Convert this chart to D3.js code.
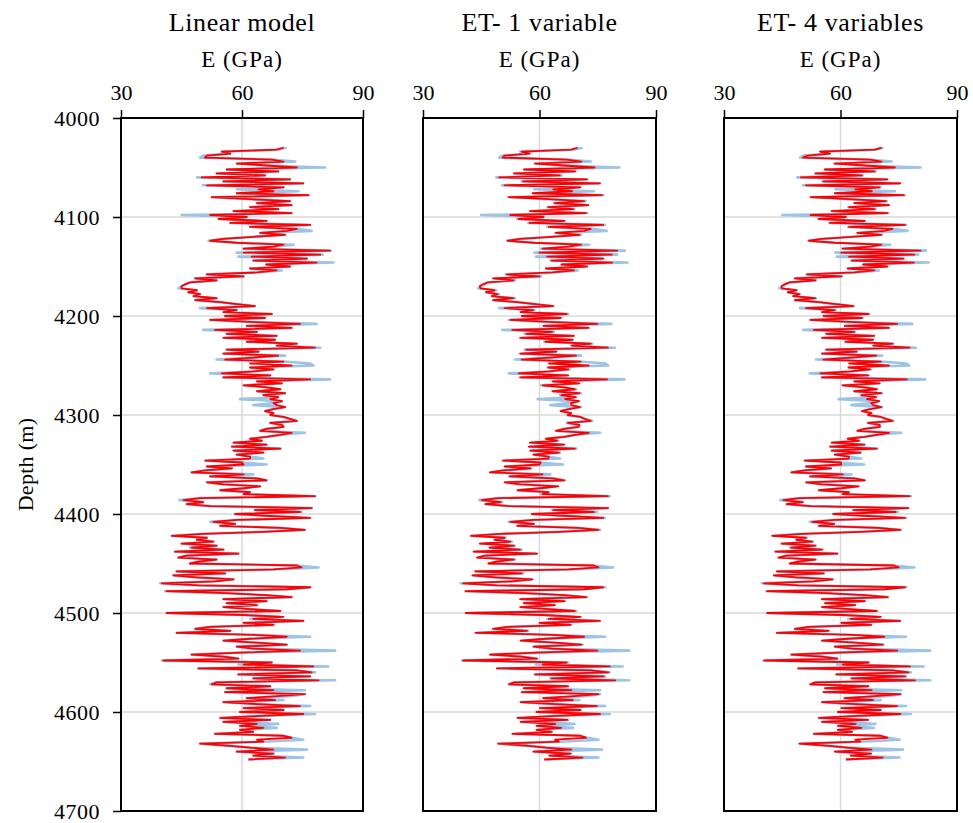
<!DOCTYPE html>
<html>
<head>
<meta charset="utf-8">
<script src="https://cdn.jsdelivr.net/npm/d3@7"></script>
<style>
  body { margin: 0; background: #fff; }
</style>
</head>
<body>
<svg id="chart" width="973" height="823"></svg>
<script>
// Log samples every 2 m, starting at 4030 m
const DEPTH_START = 4030;
const DEPTH_STEP = 2;

// Measured E (GPa) - light blue
const measured = [
  71.1, 68.6, 55.0, 57.1, 50.4, 49.6, 67.4, 73.2, 58.7, 66.1,
  80.6, 56.2, 69.0, 53.7, 65.7, 48.9, 71.9, 55.4, 75.2, 50.3,
  70.3, 58.7, 74.0, 58.7, 76.5, 52.5, 62.0, 71.9, 63.7, 72.3,
  62.0, 69.0, 57.9, 72.3, 45.0, 61.2, 54.2, 66.1, 57.1, 76.9,
  62.0, 73.6, 77.3, 64.5, 70.7, 62.8, 55.4, 51.7, 58.7, 72.8,
  67.8, 60.4, 82.0, 58.7, 80.0, 59.1, 76.1, 62.8, 82.7, 66.0,
  71.9, 62.0, 69.9, 63.7, 51.3, 60.4, 48.4, 53.7, 47.1, 45.9, 45.0,
  44.2, 48.8, 46.7, 49.6, 48.0, 53.7, 48.4, 54.6, 58.7, 63.2,
  49.6, 58.7, 55.4, 67.4, 55.8, 65.7, 52.1, 62.0, 78.5, 61.2,
  72.3, 50.4, 63.7, 56.2, 68.6, 55.4,
  68.2, 61.2, 73.6, 68.6, 79.4, 56.2, 64.1, 55.4, 70.7, 62.8,
  53.7, 70.3, 76.9, 77.7, 62.0, 67.8, 62.8, 52.1, 67.0, 55.4,
  81.8, 63.7, 69.9, 60.4, 66.1, 69.5, 63.7, 70.7, 65.3, 69.0,
  59.5, 69.9, 67.8, 62.8, 70.7, 67.8, 65.7, 67.8, 67.0, 70.3,
  71.9, 73.6, 67.0, 69.9, 70.3, 66.1, 64.5, 75.6, 69.5, 66.1,
  62.0, 64.9, 57.9, 66.1, 57.5, 69.5, 57.9, 65.3, 58.7, 62.0,
  65.3, 50.9, 60.0, 66.1, 51.3, 57.5, 50.9, 47.5, 62.8, 52.1,
  63.7, 66.1, 51.3, 55.4, 64.5, 60.4, 54.6, 62.0, 60.4, 78.1,
  49.6, 44.5, 50.4, 46.3, 52.1, 77.3, 63.2, 74.8, 58.3, 67.0,
  76.9, 58.7, 52.1, 58.3, 54.6, 69.5, 75.6, 65.3, 50.4, 42.6,
  51.3, 48.8, 52.9, 45.0, 53.7, 47.1,
  55.4, 43.4, 59.1, 46.3, 44.2, 53.7, 49.2, 47.1, 73.6,
  79.0, 67.8, 43.8, 55.8, 43.0, 48.8, 57.9, 53.3, 39.7, 49.2, 77.0, 71.1, 40.9,
  56.2, 66.1, 72.3, 55.4, 66.1, 56.2, 63.7, 55.4, 62.0,
  69.5, 41.3, 60.4, 69.5, 62.0, 75.2, 60.4, 67.8, 52.1, 48.4,
  57.1, 43.8, 62.8, 76.9, 62.0, 55.4, 63.7, 71.1, 58.7, 62.8,
  83.1, 59.5, 47.5, 55.4, 59.1, 40.1,
  67.4, 59.1, 81.4, 49.2, 73.6, 78.1, 59.1, 76.9, 62.8, 83.1, 53.7, 52.1, 67.0, 56.2, 75.6, 55.8, 75.6,
  71.9, 61.2, 70.3, 55.4, 63.7, 76.9, 60.4, 70.3, 59.5, 78.1, 64.5, 54.6, 67.0, 55.4, 69.0, 59.5, 68.6, 59.5,
  62.8, 53.3, 70.3, 72.3, 75.2, 65.3, 49.6, 56.2, 62.0, 76.1, 58.7,
  67.8, 62.8, 75.2, 61.6
];

// Predicted E (GPa) - red, one series per model
const linearModel = [
  70.3, 68.6, 55.0, 57.1, 51.3, 50.8, 67.4, 70.3, 58.7, 66.1,
  73.6, 56.2, 69.0, 53.7, 65.7, 50.0, 71.9, 55.4, 75.2, 51.3,
  70.3, 64.1, 67.8, 58.7, 76.5, 52.5, 62.0, 71.9, 63.7, 72.3,
  62.0, 69.0, 57.9, 72.3, 52.1, 61.2, 54.2, 66.1, 57.1, 76.9,
  62.0, 73.6, 71.1, 64.5, 70.7, 62.8, 55.4, 52.1, 58.7, 70.3,
  67.8, 60.4, 81.8, 60.4, 79.4, 62.4, 76.1, 62.8, 78.5, 66.0,
  71.9, 62.0, 68.6, 63.7, 51.3, 60.4, 48.4, 53.7, 47.1, 45.9, 45.0,
  45.0, 48.8, 46.7, 49.6, 48.0, 53.7, 48.4, 54.6, 58.7, 63.2,
  51.3, 58.7, 55.4, 67.4, 55.8, 65.7, 52.1, 62.0, 74.4, 61.2,
  72.3, 53.3, 63.7, 56.2, 68.6, 55.4,
  68.2, 61.2, 73.6, 68.6, 78.1, 56.2, 64.1, 55.4, 69.0, 62.8,
  55.8, 70.3, 62.0, 72.3, 62.0, 67.8, 62.8, 55.0, 67.0, 55.4,
  76.9, 63.7, 69.9, 60.4, 66.1, 69.5, 63.7, 70.7, 65.3, 69.0,
  67.0, 69.9, 67.8, 68.6, 70.7, 67.8, 65.7, 67.8, 67.0, 70.3,
  71.9, 73.6, 67.0, 69.9, 70.3, 66.1, 64.5, 72.3, 69.5, 66.1,
  62.0, 64.9, 57.9, 66.1, 57.5, 69.5, 57.9, 65.3, 58.7, 62.0,
  62.0, 50.9, 60.0, 60.4, 51.3, 57.5, 50.9, 47.5, 60.4, 52.1,
  63.7, 66.1, 51.3, 55.4, 64.5, 60.4, 54.6, 62.0, 60.4, 78.1,
  49.6, 45.5, 50.4, 46.3, 52.1, 77.3, 63.2, 74.4, 58.3, 67.0,
  76.9, 58.7, 52.9, 58.3, 54.6, 69.5, 75.6, 65.3, 50.4, 42.6,
  51.3, 48.8, 52.9, 45.0, 53.7, 47.5,
  55.4, 43.4, 59.1, 46.3, 44.2, 53.7, 49.2, 47.1, 73.6,
  74.8, 67.8, 43.8, 55.8, 43.0, 48.8, 57.9, 53.3, 40.1, 49.2, 76.9, 71.1, 41.3,
  56.2, 66.1, 72.3, 55.4, 66.1, 56.2, 63.7, 55.4, 62.0,
  69.5, 41.3, 60.4, 70.3, 62.8, 75.2, 60.4, 67.8, 52.1, 48.4,
  57.1, 43.8, 62.8, 71.1, 62.0, 55.4, 63.7, 71.1, 58.7, 62.8,
  74.4, 59.5, 47.5, 55.4, 59.1, 40.5,
  67.4, 60.4, 77.7, 49.2, 73.6, 77.3, 59.1, 76.9, 62.8, 79.0, 53.7, 52.5, 67.0, 56.2, 67.8, 55.8, 75.6,
  68.6, 61.2, 68.2, 55.4, 63.7, 74.4, 60.4, 70.3, 59.5, 75.2, 64.5, 54.6, 67.0, 55.4, 63.7, 59.5, 65.3, 59.5,
  62.8, 53.3, 70.3, 72.3, 63.7, 65.3, 49.6, 56.2, 62.0, 67.8, 58.7,
  67.8, 62.8, 70.7, 61.6
];

const et1Variable = [
  69.8, 68.2, 55.4, 57.5, 51.0, 50.5, 67.0, 70.8, 58.9, 66.4,
  74.2, 56.0, 69.3, 53.4, 65.2, 49.6, 72.3, 55.8, 75.6, 51.0,
  70.6, 63.5, 68.4, 58.2, 76.1, 52.0, 62.4, 71.5, 63.9, 72.6,
  62.3, 68.7, 57.5, 72.0, 52.5, 61.0, 54.6, 66.5, 57.4, 76.4,
  62.4, 73.2, 71.6, 64.1, 70.3, 63.2, 55.0, 51.8, 58.4, 70.7,
  67.4, 60.8, 80.0, 60.0, 78.6, 62.0, 76.5, 63.1, 78.7, 65.6,
  72.3, 61.6, 68.9, 63.3, 51.6, 60.0, 48.0, 53.3, 46.6, 45.4, 44.6,
  44.8, 48.4, 46.2, 49.2, 47.7, 53.3, 48.0, 54.2, 58.9, 63.6,
  51.0, 58.4, 55.1, 67.0, 55.4, 65.4, 52.5, 62.4, 74.9, 61.0,
  72.7, 53.0, 63.3, 56.6, 68.9, 55.0,
  68.6, 61.5, 73.2, 68.2, 77.6, 56.6, 64.4, 55.0, 69.4, 62.5,
  55.4, 70.6, 62.4, 72.7, 62.3, 67.4, 62.4, 54.6, 67.4, 55.0,
  77.4, 63.3, 70.3, 60.8, 66.5, 69.1, 63.3, 70.3, 65.6, 69.4,
  66.6, 70.2, 68.1, 68.2, 70.4, 67.5, 65.4, 68.2, 67.3, 70.6,
  71.6, 73.2, 67.3, 70.3, 70.0, 66.4, 64.2, 72.7, 69.2, 66.4,
  61.6, 64.5, 57.5, 66.4, 57.2, 69.1, 57.6, 65.0, 58.4, 62.4,
  62.3, 50.5, 60.3, 60.0, 51.0, 57.8, 50.6, 47.2, 60.8, 52.4,
  63.3, 66.5, 51.0, 55.1, 64.9, 60.1, 54.3, 62.4, 60.8, 77.6,
  49.3, 45.1, 50.0, 46.0, 52.5, 77.7, 63.5, 74.0, 58.0, 67.4,
  76.4, 58.4, 52.5, 58.6, 54.2, 69.9, 75.2, 65.0, 50.0, 42.3,
  51.0, 48.4, 52.5, 44.6, 53.4, 47.2,
  55.0, 43.0, 59.4, 46.0, 43.9, 53.4, 48.8, 46.8, 74.0,
  75.2, 67.4, 43.4, 55.4, 42.7, 48.5, 58.2, 53.0, 40.3, 49.0, 76.4, 71.5, 41.0,
  56.5, 66.4, 72.0, 55.0, 66.5, 55.9, 64.0, 55.0, 62.4,
  69.1, 41.0, 60.8, 70.6, 62.4, 75.6, 60.0, 68.1, 51.8, 48.0,
  56.8, 43.5, 63.2, 71.5, 61.6, 55.1, 64.0, 70.8, 58.4, 63.2,
  74.9, 59.2, 47.2, 55.1, 59.4, 40.3,
  67.0, 60.8, 78.1, 49.0, 73.2, 77.7, 58.8, 76.5, 63.1, 79.5, 53.4, 52.2, 67.4, 55.9, 68.2, 55.4, 75.2,
  69.0, 60.9, 68.6, 55.1, 64.0, 74.8, 60.1, 70.6, 59.2, 75.6, 64.2, 54.3, 67.3, 55.1, 64.1, 59.2, 65.6, 59.2,
  63.2, 53.0, 70.6, 72.0, 64.0, 65.0, 49.3, 56.5, 61.6, 68.2, 58.4,
  68.1, 62.5, 71.1, 61.2
];

const et4Variables = [
  70.6, 68.9, 54.7, 57.3, 51.5, 50.3, 67.6, 70.6, 58.4, 66.3,
  74.0, 55.9, 68.8, 53.5, 65.5, 49.8, 72.1, 55.6, 75.4, 51.1,
  70.1, 63.8, 68.1, 58.5, 76.3, 52.3, 62.2, 71.7, 63.5, 72.5,
  62.2, 68.8, 57.7, 72.1, 52.3, 61.4, 54.4, 66.3, 57.3, 76.6,
  62.2, 73.4, 71.3, 64.3, 70.5, 63.0, 55.2, 51.9, 58.5, 70.5,
  67.6, 60.6, 80.6, 60.2, 79.0, 62.2, 76.3, 62.9, 78.9, 65.8,
  72.1, 61.8, 68.7, 63.5, 51.4, 60.2, 48.2, 53.5, 46.8, 45.6, 44.8,
  44.9, 48.6, 46.4, 49.4, 47.8, 53.5, 48.2, 54.4, 58.8, 63.4,
  51.1, 58.5, 55.2, 67.2, 55.6, 65.5, 52.3, 62.2, 74.6, 61.1,
  72.5, 53.1, 63.5, 56.4, 68.7, 55.2,
  68.4, 61.3, 73.4, 68.4, 77.8, 56.4, 64.2, 55.2, 69.2, 62.6,
  55.6, 70.4, 62.2, 72.5, 62.1, 67.6, 62.6, 54.8, 67.2, 55.2,
  77.1, 63.5, 70.1, 60.6, 66.3, 69.3, 63.5, 70.5, 65.4, 69.2,
  66.8, 70.0, 67.9, 68.4, 70.5, 67.6, 65.5, 68.0, 67.1, 70.4,
  71.7, 73.4, 67.1, 70.1, 70.1, 66.2, 64.3, 72.5, 69.3, 66.2,
  61.8, 64.7, 57.7, 66.2, 57.3, 69.3, 57.7, 65.1, 58.5, 62.2,
  62.1, 50.7, 60.1, 60.2, 51.1, 57.6, 50.7, 47.3, 60.6, 52.2,
  63.5, 66.3, 51.1, 55.2, 64.7, 60.2, 54.4, 62.2, 60.6, 77.8,
  49.4, 45.3, 50.2, 46.1, 52.3, 77.5, 63.3, 74.2, 58.1, 67.2,
  76.6, 58.5, 52.7, 58.4, 54.4, 69.7, 75.4, 65.1, 50.2, 42.4,
  51.1, 48.6, 52.7, 44.8, 53.5, 47.3,
  55.2, 43.2, 59.2, 46.1, 44.0, 53.5, 49.0, 46.9, 73.8,
  75.0, 67.6, 43.6, 55.6, 42.8, 48.6, 58.0, 53.1, 40.2, 49.1, 76.6, 71.3, 41.1,
  56.3, 66.2, 72.1, 55.2, 66.3, 56.0, 63.8, 55.2, 62.2,
  69.3, 41.1, 60.6, 70.4, 62.6, 75.4, 60.2, 67.9, 51.9, 48.2,
  56.9, 43.6, 63.0, 71.3, 61.8, 55.2, 63.8, 70.9, 58.5, 63.0,
  74.6, 59.3, 47.3, 55.2, 59.2, 40.4,
  67.2, 60.6, 77.9, 49.1, 73.4, 77.5, 58.9, 76.6, 62.9, 79.2, 53.5, 52.3, 67.2, 56.0, 68.0, 55.6, 75.4,
  68.8, 61.0, 68.4, 55.2, 63.8, 74.6, 60.2, 70.4, 59.3, 75.4, 64.3, 54.4, 67.1, 55.2, 63.9, 59.3, 65.4, 59.3,
  63.0, 53.1, 70.4, 72.1, 63.8, 65.1, 49.4, 56.3, 61.8, 68.0, 58.5,
  67.9, 62.6, 70.9, 61.4
];

const panelTitles = ['Linear model', 'ET- 1 variable', 'ET- 4 variables'];
const panelSeries = [linearModel, et1Variable, et4Variables];
const xLabel = 'E (GPa)';
const yLabel = 'Depth (m)';
const xTicks = [30, 60, 90];
const depthTicks = [4000, 4100, 4200, 4300, 4400, 4500, 4600, 4700];

// layout
const PANELS = [
  { left: 121, right: 363 },
  { left: 423, right: 656 },
  { left: 724, right: 957 },
];
const TOP = 118;
const BOTTOM = 811;
const GRID = '#d9d9d9';
const BLUE = '#9dc3e6';
const RED = '#ff0000';
const FONT = '"Liberation Serif", "Times New Roman", serif';

const depth = measured.map((_, i) => DEPTH_START + i * DEPTH_STEP);

const svg = d3.select('#chart');
const y = d3.scaleLinear().domain([4000, 4700]).range([TOP, BOTTOM]);

// serif text helper
const label = (sel, size, spacing = 0) => sel
  .style('font-family', FONT)
  .style('font-size', `${size}px`)
  .style('letter-spacing', `${spacing}px`)
  .style('fill', '#000');

PANELS.forEach((p, k) => {
  const x = d3.scaleLinear().domain([30, 90]).range([p.left, p.right]);
  const g = svg.append('g');

  // grid
  g.selectAll('.hgrid')
    .data(depthTicks.slice(1, -1))
    .join('line')
    .attr('x1', p.left).attr('x2', p.right)
    .attr('y1', (d) => y(d)).attr('y2', (d) => y(d))
    .attr('stroke', GRID).attr('stroke-width', 1.5);
  g.append('line')
    .attr('x1', x(60)).attr('x2', x(60))
    .attr('y1', TOP).attr('y2', BOTTOM)
    .attr('stroke', GRID).attr('stroke-width', 1.5);

  // measured then predicted
  const line = (vals) => d3.line()
    .x((d, i) => x(vals[i]))
    .y((d) => y(d))(depth);

  g.append('path')
    .attr('d', line(measured))
    .attr('fill', 'none')
    .attr('stroke', BLUE)
    .attr('stroke-width', 2.6)
    .attr('stroke-linejoin', 'round');
  g.append('path')
    .attr('d', line(panelSeries[k]))
    .attr('fill', 'none')
    .attr('stroke', RED)
    .attr('stroke-width', 1.8)
    .attr('stroke-linejoin', 'round');

  // frame
  g.append('rect')
    .attr('x', p.left).attr('y', TOP)
    .attr('width', p.right - p.left).attr('height', BOTTOM - TOP)
    .attr('fill', 'none').attr('stroke', '#000').attr('stroke-width', 2);

  // top axis
  const ax = g.append('g')
    .attr('transform', `translate(0,${TOP})`)
    .call(d3.axisTop(x).tickValues(xTicks).tickFormat(d3.format('d'))
      .tickSize(8).tickPadding(10));
  ax.select('.domain').remove();
  ax.selectAll('line').attr('stroke', '#000').attr('stroke-width', 1.5);
  label(ax.selectAll('text'), 22);

  const cx = (p.left + p.right) / 2;
  label(g.append('text'), 26, 0.6)
    .attr('x', cx).attr('y', 31)
    .attr('text-anchor', 'middle')
    .text(panelTitles[k]);
  label(g.append('text'), 23, 1)
    .attr('x', cx).attr('y', 67)
    .attr('text-anchor', 'middle')
    .text(xLabel);

  if (k === 0) {
    const ay = g.append('g')
      .attr('transform', `translate(${p.left},0)`)
      .call(d3.axisLeft(y).tickValues(depthTicks).tickFormat(d3.format('d'))
        .tickSize(8).tickPadding(13));
    ay.select('.domain').remove();
    ay.selectAll('line').attr('stroke', '#000').attr('stroke-width', 1.5);
    label(ay.selectAll('text'), 22, 0.5);

    label(g.append('text'), 22, 0.3)
      .attr('transform', `translate(33,${(TOP + BOTTOM) / 2}) rotate(-90)`)
      .attr('text-anchor', 'middle')
      .text(yLabel);
  }
});
</script>
</body>
</html>
